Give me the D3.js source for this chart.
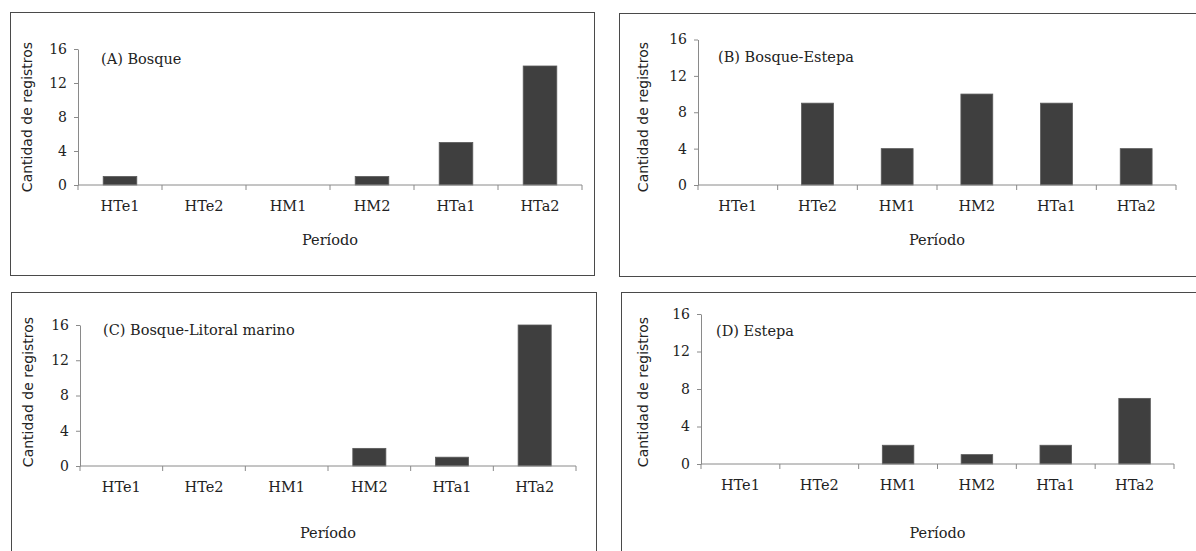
<!DOCTYPE html>
<html>
<head>
<meta charset="utf-8">
<script src="https://cdn.jsdelivr.net/npm/d3@7"></script>
<style>
  body { margin: 0; background: #fff; }
  svg { display: block; }
  .tick text { font-family: "DejaVu Serif", serif; fill: #222; }
</style>
</head>
<body>
<div id="chart"></div>
<script>
// datos
let periodos = ["HTe1", "HTe2", "HM1", "HM2", "HTa1", "HTa2"];
let yTicks = [0, 4, 8, 12, 16];
let titulos = ["(A) Bosque", "(B) Bosque-Estepa", "(C) Bosque-Litoral marino", "(D) Estepa"];
let bosque = [1, 0, 0, 1, 5, 14];
let bosqueEstepa = [0, 9, 4, 10, 9, 4];
let bosqueLitoral = [0, 0, 0, 2, 1, 16];
let estepa = [0, 0, 2, 1, 2, 7];
let series = [bosque, bosqueEstepa, bosqueLitoral, estepa];

// layout of each panel (pixels)
let panels = [
  { frame: [10, 12, 584, 263], x0: 78, x1: 582, yBot: 185, yTop: 49, tx: 101, ty: 59, lx: 27, ly: 117, py: 240 },
  { frame: [619, 13, 600, 263], x0: 698, x1: 1176, yBot: 185, yTop: 39.5, tx: 718, ty: 57, lx: 643, ly: 117, py: 240 },
  { frame: [11, 292, 585, 300], x0: 80, x1: 576, yBot: 466, yTop: 325, tx: 103, ty: 330, lx: 28, ly: 392, py: 533 },
  { frame: [621, 292, 600, 300], x0: 701, x1: 1174, yBot: 464, yTop: 314, tx: 716, ty: 331, lx: 643, ly: 392, py: 533 }
];

let svgWidth = 1196;
let svgHeight = 551;

let svg = d3.select("#chart")
  .append("svg")
  .attr("width", svgWidth)
  .attr("height", svgHeight);

panels.forEach(function(p, i) {
  let g = svg.append("g");

  g.append("rect")
    .attr("x", p.frame[0] + 0.5)
    .attr("y", p.frame[1] + 0.5)
    .attr("width", p.frame[2])
    .attr("height", p.frame[3])
    .attr("fill", "none")
    .attr("stroke", "#4a4a4a")
    .attr("stroke-width", 1);

  let x = d3.scaleBand()
    .domain(periodos)
    .range([p.x0, p.x1])
    .paddingInner(0.6)
    .paddingOuter(0.3);

  let y = d3.scaleLinear()
    .domain([0, 16])
    .range([p.yBot, p.yTop]);

  let data = periodos.map((d, j) => ({ periodo: d, valor: series[i][j] }));

  g.selectAll(".bar")
    .data(data.filter(d => d.valor > 0))
    .enter()
    .append("rect")
    .attr("class", "bar")
    .attr("x", d => x(d.periodo))
    .attr("y", d => y(d.valor))
    .attr("width", x.bandwidth())
    .attr("height", d => y(0) - y(d.valor))
    .attr("fill", "#3f3f3f")
    .attr("stroke", "#5a5a5a")
    .attr("stroke-width", 0.8);

  // eje y
  let yAxis = g.append("g")
    .attr("transform", `translate(${p.x0}, 0)`)
    .call(d3.axisLeft(y).tickValues(yTicks).tickSize(4).tickPadding(7).tickSizeOuter(0));
  yAxis.selectAll("path, line").attr("stroke", "#8a8a8a");
  yAxis.selectAll("text").attr("font-size", "14px").attr("font-family", "DejaVu Serif");

  // eje x con marcas entre categorias
  let xAxis = g.append("g")
    .attr("transform", `translate(0, ${p.yBot})`);
  xAxis.append("line")
    .attr("x1", p.x0).attr("x2", p.x1)
    .attr("y1", 0).attr("y2", 0)
    .attr("stroke", "#8a8a8a");
  let step = (p.x1 - p.x0) / periodos.length;
  xAxis.selectAll(".xt")
    .data(d3.range(periodos.length + 1))
    .enter()
    .append("line")
    .attr("x1", k => p.x0 + k * step)
    .attr("x2", k => p.x0 + k * step)
    .attr("y1", 0).attr("y2", 5)
    .attr("stroke", "#8a8a8a");
  xAxis.selectAll(".xl")
    .data(periodos)
    .enter()
    .append("text")
    .attr("x", d => x(d) + x.bandwidth() / 2)
    .attr("y", 21)
    .attr("dy", "0.35em")
    .attr("text-anchor", "middle")
    .attr("font-family", "DejaVu Serif")
    .attr("font-size", "14.5px")
    .attr("fill", "#222")
    .text(d => d);

  g.append("text")
    .attr("x", p.tx)
    .attr("y", p.ty)
    .attr("dy", "0.35em")
    .attr("font-family", "DejaVu Serif")
    .attr("font-size", "14.5px")
    .attr("fill", "#222")
    .text(titulos[i]);

  g.append("text")
    .attr("transform", `translate(${p.lx}, ${p.ly}) rotate(-90)`)
    .attr("text-anchor", "middle")
    .attr("dy", "0.35em")
    .attr("font-family", "DejaVu Sans")
    .attr("font-size", "14px")
    .attr("fill", "#222")
    .text("Cantidad de registros");

  g.append("text")
    .attr("x", (p.x0 + p.x1) / 2)
    .attr("y", p.py)
    .attr("dy", "0.35em")
    .attr("text-anchor", "middle")
    .attr("font-family", "DejaVu Serif")
    .attr("font-size", "14.5px")
    .attr("fill", "#222")
    .text("Período");
});
</script>
</body>
</html>
